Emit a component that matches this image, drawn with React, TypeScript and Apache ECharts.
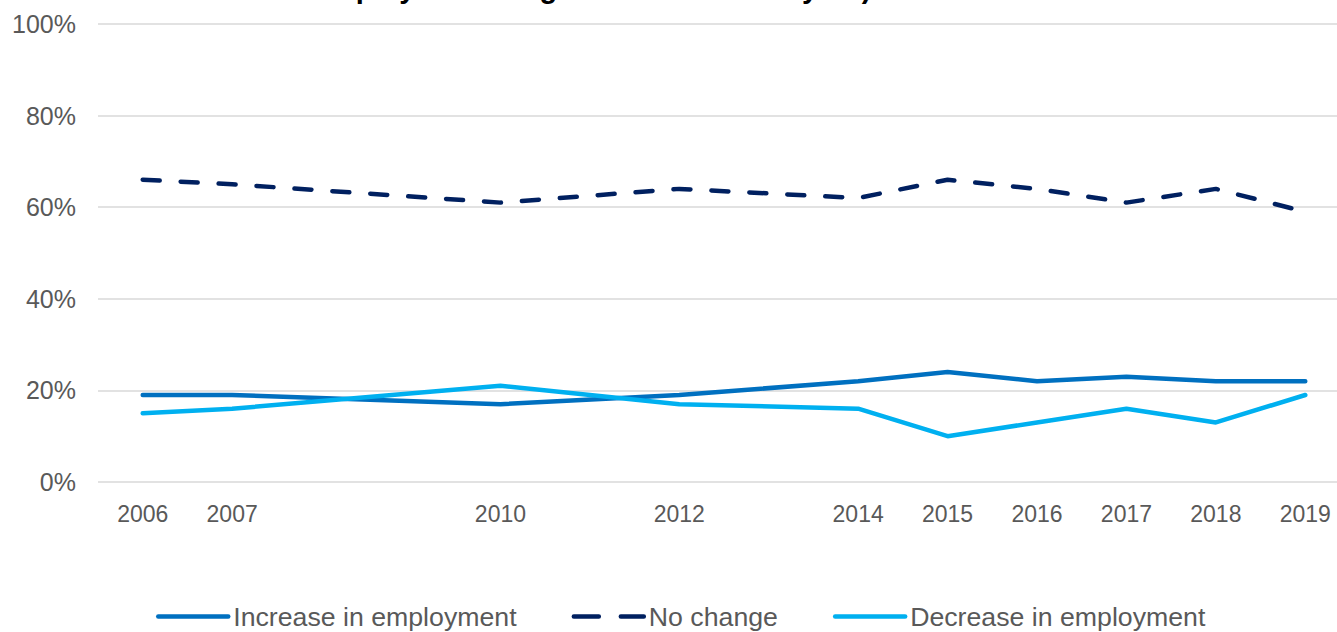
import React, { useEffect, useRef } from "react";
import * as echarts from "echarts";

const years = [2006, 2007, 2010, 2012, 2014, 2015, 2016, 2017, 2018, 2019];
const increase = [19, 19, 17, 19, 22, 24, 22, 23, 22, 22];
const noChange = [66, 65, 61, 64, 62, 66, 64, 61, 64, 59];
const decrease = [15, 16, 21, 17, 16, 10, 13, 16, 13, 19];
const seriesNames = ["Increase in employment", "No change", "Decrease in employment"];
const titleText = "based on the share of employers during the last calendar year)";

export default function App() {
  const ref = useRef<HTMLDivElement>(null);
  useEffect(() => {
    if (!ref.current) return;
    const chart = echarts.init(ref.current, null, { renderer: "svg" });
    const pair = (vals: number[]) => years.map((y, i) => [y, vals[i]]);
    const font = "'Liberation Sans', Arial, sans-serif";
    chart.setOption({
      animation: false,
      graphic: [
        {
          type: "text",
          x: 6,
          y: 3,
          style: {
            text: titleText,
            fontFamily: font,
            fontWeight: "bold",
            fontSize: 29,
            lineHeight: 30,
            verticalAlign: "bottom",
            fill: "#000000",
          },
        },
      ],
      grid: { left: 98, top: 24, height: 458, width: 1252, outerBoundsMode: "none", containLabel: false },
      legend: {
        left: 151,
        top: 598,
        itemWidth: 70,
        itemHeight: 14,
        itemGap: 55,
        itemStyle: { opacity: 0 },
        lineStyle: { width: 4.5, cap: "round" },
        textStyle: { fontFamily: font, fontSize: 26.7, color: "#595959" },
        data: [
          { name: seriesNames[0] },
          { name: seriesNames[1], lineStyle: { type: [25, 22], width: 4.5, cap: "round" } },
          { name: seriesNames[2] },
        ],
      },
      xAxis: {
        type: "value",
        min: 2005.5,
        max: 2019.5,
        axisLine: { show: false },
        axisTick: { show: false },
        splitLine: { show: false },
        axisLabel: {
          customValues: years,
          formatter: (v: number) => String(v),
          fontFamily: font,
          fontSize: 23,
          color: "#595959",
          margin: 20,
        },
      },
      yAxis: {
        type: "value",
        min: 0,
        max: 100,
        interval: 20,
        axisLine: { show: false },
        axisTick: { show: false },
        splitLine: { lineStyle: { color: "#D9D9D9", width: 1.5 } },
        axisLabel: {
          formatter: "{value}%",
          fontFamily: font,
          fontSize: 25,
          color: "#595959",
          margin: 22,
        },
      },
      series: [
        {
          name: seriesNames[0],
          type: "line",
          data: pair(increase),
          symbol: "none",
          lineStyle: { color: "#0070C0", width: 4.5, cap: "round" },
          itemStyle: { color: "#0070C0" },
        },
        {
          name: seriesNames[1],
          type: "line",
          data: pair(noChange),
          symbol: "none",
          lineStyle: { color: "#002060", width: 4.5, type: [17, 21], cap: "round" },
          itemStyle: { color: "#002060" },
        },
        {
          name: seriesNames[2],
          type: "line",
          data: pair(decrease),
          symbol: "none",
          lineStyle: { color: "#00B0F0", width: 4.5, cap: "round" },
          itemStyle: { color: "#00B0F0" },
        },
      ],
    });
    return () => chart.dispose();
  }, []);
  return (
    <div
      ref={ref}
      style={{ position: "fixed", left: 0, top: 0, width: 1337, height: 632, background: "#fff" }}
    />
  );
}
